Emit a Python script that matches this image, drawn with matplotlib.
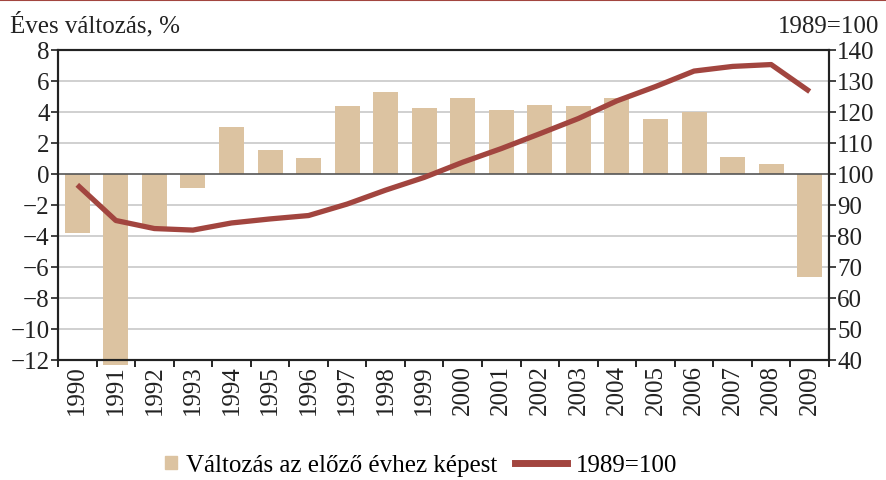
import numpy as np
import matplotlib.pyplot as plt
from matplotlib.lines import Line2D
from matplotlib.patches import Patch, Rectangle
from matplotlib.legend_handler import HandlerPatch

plt.rcParams['font.family'] = ['Liberation Serif', 'DejaVu Serif']

years = [str(y) for y in range(1990, 2010)]
change = [-3.8, -12.3, -3.4, -0.9, 3.0, 1.55, 1.05, 4.4, 5.27, 4.25,
          4.92, 4.15, 4.45, 4.38, 4.92, 3.55, 4.0, 1.1, 0.62, -6.67]
index = [96.5, 85.0, 82.4, 81.9, 84.2, 85.5, 86.6, 90.3, 94.8, 98.9,
         103.8, 108.2, 113.0, 117.9, 123.6, 128.2, 133.2, 134.7, 135.3, 126.6]

bar_color = '#dcc3a1'
line_color = '#a2453f'
fs = 18

fig = plt.figure(figsize=(8.87, 4.81), dpi=100)
ax = fig.add_axes([0.0654, 0.2495, 0.8692, 0.6445])
ax2 = ax.twinx()

x = np.arange(len(years))
ax.bar(x, change, 0.65, color=bar_color, zorder=2, clip_on=False)
ax2.plot(x, index, color=line_color, lw=3.8, solid_capstyle='butt', zorder=3)

ax.set_xlim(-0.5, len(years) - 0.5)
ax.set_ylim(-12, 8)
ax.set_yticks(range(-12, 9, 2))
ax.set_yticklabels([str(v).replace('-', '\u2212') for v in range(-12, 9, 2)])
ax2.set_ylim(40, 140)
ax2.set_yticks(range(40, 141, 10))

# grid
for v in range(-10, 8, 2):
    if v != 0:
        ax.axhline(v, color='#c8c8c8', lw=1.2, zorder=1)
ax.axhline(0, color='#555555', lw=1.2, zorder=2.5)

# x ticks at boundaries, labels at centers
ax.set_xticks(np.arange(-0.5, len(years), 1.0))
ax.set_xticklabels([])
ax.set_xticks(x, minor=True)
ax.set_xticklabels(years, minor=True, rotation=90)
ax.tick_params(axis='x', which='minor', length=0, pad=3, labelsize=fs, colors='#222222')
ax.tick_params(axis='x', which='major', length=5, width=1.2, direction='out')
ax.tick_params(axis='y', length=5, width=1.2, labelsize=fs, pad=1, colors='#222222')
ax2.tick_params(axis='y', length=5, width=1.2, labelsize=fs, pad=1, colors='#222222')

for a in (ax, ax2):
    for s in a.spines.values():
        s.set_color('#222222')
        s.set_linewidth(1.5)
ax.set_zorder(ax2.get_zorder() - 1)
ax2.patch.set_visible(False)

fig.text(0.011, 0.932, 'Éves változás, %', fontsize=fs, color='#222222', va='baseline')
fig.text(0.991, 0.932, '1989=100', fontsize=fs, color='#222222', va='baseline', ha='right')

# red rule at top
fig.add_artist(Line2D([0, 1], [0.998, 0.998], color='#a2453f', lw=1.5, transform=fig.transFigure))


def square(legend, orig_handle, xdescent, ydescent, width, height, fontsize):
    s = height * 0.7
    return Rectangle((-xdescent + width - s, -ydescent + (height - s) / 2), s, s)


handles = [Patch(color=bar_color), Line2D([], [], color=line_color, lw=5)]
fig.legend(handles, ['Változás az előző évhez képest', '1989=100'],
           loc='center', bbox_to_anchor=(0.452, 0.031), ncol=2, frameon=False,
           fontsize=fs, handlelength=2.1, handletextpad=0.35, columnspacing=0.7,
           handler_map={Patch: HandlerPatch(patch_func=square)})

fig.savefig('out.png', dpi=100)
